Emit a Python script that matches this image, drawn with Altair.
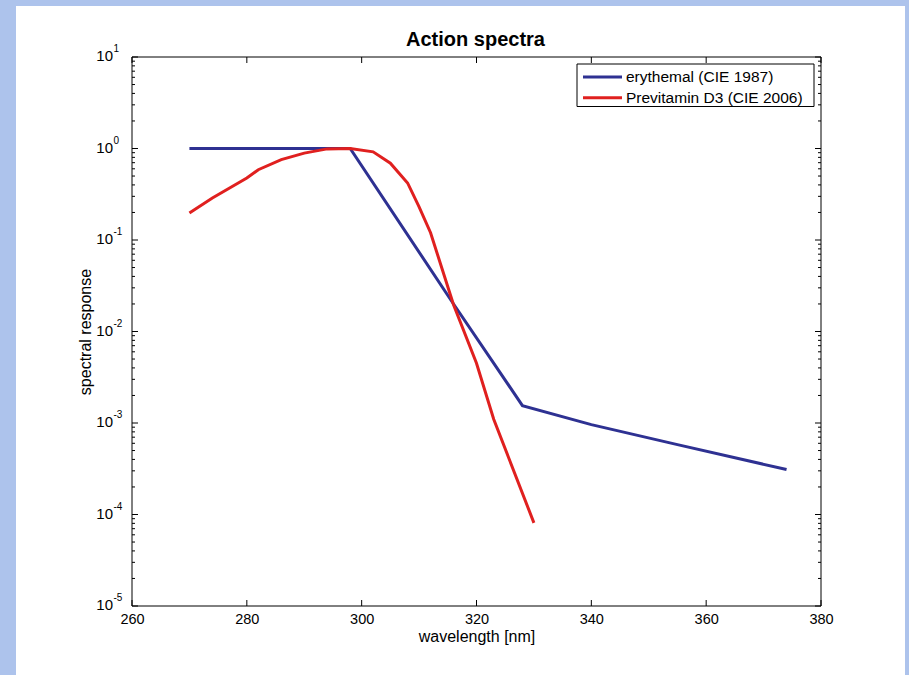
import altair as alt
import pandas as pd

# ---- data ----
series_names = ["erythemal (CIE 1987)", "Previtamin D3 (CIE 2006)"]
series_colors = ["#2e3192", "#e0201f"]

ery_wl = [270, 298, 316, 328, 340, 355, 374]
ery_val = [1.0, 1.0, 0.02, 0.00155, 0.00096, 0.00058, 0.00031]

vitd_wl = [270, 274, 280, 282, 286, 290, 294, 298, 302, 305, 308, 310, 312, 316, 320, 323, 330]
vitd_val = [0.197, 0.288, 0.476, 0.586, 0.755, 0.89, 0.99, 1.0, 0.92, 0.69, 0.42, 0.23,
            0.12, 0.0196, 0.0045, 0.0011, 0.000081]

x_ticks = [260, 280, 300, 320, 340, 360, 380]
y_exps = [-5, -4, -3, -2, -1, 0, 1]
minor_mult = [2, 3, 4, 5, 6, 7, 8, 9]
title_text = "Action spectra"

FONT = "Liberation Sans"
W, H = 689, 549

rows = []
for i, (w, v) in enumerate(zip(ery_wl, ery_val)):
    rows.append({"wl": w, "val": v, "series": series_names[0], "i": i})
for i, (w, v) in enumerate(zip(vitd_wl, vitd_val)):
    rows.append({"wl": w, "val": v, "series": series_names[1], "i": i})
lines_df = pd.DataFrame(rows)

xt_df = pd.DataFrame({"wl": x_ticks})
yt_df = pd.DataFrame({"val": [10.0 ** e for e in y_exps],
                      "exp": [str(e) for e in y_exps]})
ym_df = pd.DataFrame({"val": [m * 10.0 ** e for e in y_exps[:-1] for m in minor_mult]})

xscale = alt.Scale(domain=[260, 380], nice=False, zero=False)
yscale = alt.Scale(type="log", domain=[1e-5, 10], nice=False)


def one(**kw):
    return alt.Data(values=[dict(a=1, **kw)])


panel = alt.Chart(one()).mark_rect(fill="white").encode(
    x=alt.value(-116), x2=alt.value(773), y=alt.value(-51), y2=alt.value(640)
)

box = alt.Chart(one()).mark_rect(fill=None, stroke="black", strokeWidth=1).encode(
    x=alt.value(0), x2=alt.value(W), y=alt.value(0), y2=alt.value(H)
)

title = alt.Chart(one(t=title_text)).mark_text(
    font=FONT, fontSize=20, fontWeight="bold", align="center",
    baseline="alphabetic", color="black").encode(
    x=alt.value(W / 2 - 1), y=alt.value(-11), text="t:N")

lines = alt.Chart(lines_df).mark_line(strokeWidth=3).encode(
    x=alt.X("wl:Q", scale=xscale,
            axis=alt.Axis(values=x_ticks, tickSize=0, domain=False, grid=False,
                          labelFlush=False, labelOverlap=False,
                          labelFont=FONT, labelFontSize=14.5, labelColor="black",
                          labelPadding=6, title="wavelength [nm]", titleFont=FONT,
                          titleFontSize=16, titleFontWeight="normal", titleColor="black",
                          titlePadding=3, zindex=2)),
    y=alt.Y("val:Q", scale=yscale,
            axis=alt.Axis(labels=False, ticks=False, domain=False, grid=False,
                          title="spectral response", titleFont=FONT, titleFontSize=16,
                          titleFontWeight="normal", titleColor="black", titlePadding=39,
                          zindex=2)),
    color=alt.Color("series:N",
                    scale=alt.Scale(domain=series_names, range=series_colors),
                    legend=None),
    order="i:Q",
)

xt_bot = alt.Chart(xt_df).mark_rule(color="black").encode(
    x=alt.X("wl:Q", scale=xscale), y=alt.value(H), y2=alt.value(H - 6))
xt_top = alt.Chart(xt_df).mark_rule(color="black").encode(
    x=alt.X("wl:Q", scale=xscale), y=alt.value(0), y2=alt.value(6))
yt_left = alt.Chart(yt_df).mark_rule(color="black").encode(
    y=alt.Y("val:Q", scale=yscale), x=alt.value(0), x2=alt.value(6))
yt_right = alt.Chart(yt_df).mark_rule(color="black").encode(
    y=alt.Y("val:Q", scale=yscale), x=alt.value(W), x2=alt.value(W - 6))
ym_left = alt.Chart(ym_df).mark_rule(color="black").encode(
    y=alt.Y("val:Q", scale=yscale), x=alt.value(0), x2=alt.value(3))
ym_right = alt.Chart(ym_df).mark_rule(color="black").encode(
    y=alt.Y("val:Q", scale=yscale), x=alt.value(W), x2=alt.value(W - 3))

ten = alt.Chart(yt_df).mark_text(font=FONT, fontSize=15, align="right",
                                 baseline="middle", dy=-1, color="black").encode(
    y=alt.Y("val:Q", scale=yscale), x=alt.value(-19), text=alt.value("10"))
expo = alt.Chart(yt_df).mark_text(font=FONT, fontSize=10, align="left",
                                  baseline="middle", dy=-8, color="black").encode(
    y=alt.Y("val:Q", scale=yscale), x=alt.value(-18.5), text="exp:N")

# ---- legend drawn as a box with one swatch + label per series ----
LX0, LX1, LY0, LY1 = 445, 682, 7, 49.5
legend_box = alt.Chart(one()).mark_rect(fill="white", stroke="black", strokeWidth=1).encode(
    x=alt.value(LX0), x2=alt.value(LX1), y=alt.value(LY0), y2=alt.value(LY1))
legend_layers = [legend_box]
for k, (name, col) in enumerate(zip(series_names, series_colors)):
    ry = 20 + k * 20.7
    legend_layers.append(
        alt.Chart(one(n=name)).mark_rule(color=col, strokeWidth=3).encode(
            x=alt.value(LX0 + 6), x2=alt.value(LX0 + 45), y=alt.value(ry)))
    legend_layers.append(
        alt.Chart(one(n=name)).mark_text(font=FONT, fontSize=15.5, align="left",
                                         baseline="middle", color="black").encode(
            x=alt.value(LX0 + 49), y=alt.value(ry), text="n:N"))

chart = alt.layer(panel, title, lines, box, xt_bot, xt_top, yt_left, yt_right,
                  ym_left, ym_right, ten, expo, *legend_layers).properties(
    width=W, height=H,
    padding={"left": 132, "top": 57, "right": 88, "bottom": 69},
    autosize="none",
    background="#adc3ec",
).configure_view(stroke=None)

chart.save("out.html", embed_options={"renderer": "svg", "actions": False})
